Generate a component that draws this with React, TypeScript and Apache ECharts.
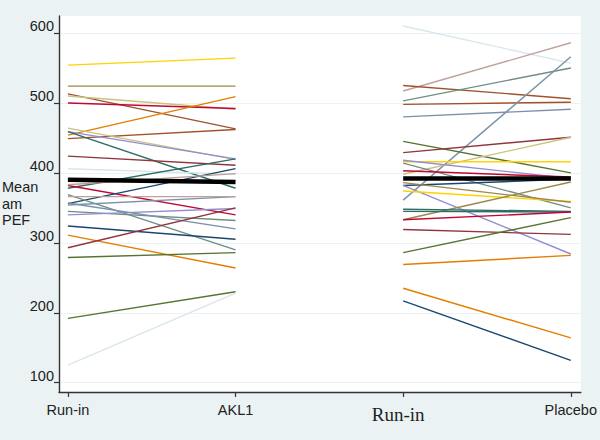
import React, { useEffect, useRef } from "react";
import * as echarts from "echarts";

// x positions: 1 = Run-in, 2 = AKL1, 3 = Run-in, 4 = Placebo
const categories = ["Run-in", "AKL1", "Run-in", "Placebo"];
const yTicks = [100, 200, 300, 400, 500, 600];

// AKL1 period: run-in value and treatment value per subject
const akl1RunIn = [554, 524, 513, 510, 500, 454, 449, 464, 459, 459, 424, 406, 378, 382, 356, 383, 369, 354, 345, 340, 357, 324, 311, 293, 279, 192, 125, 366];
const akl1Treat = [564, 524, 463, 491, 492, 509, 462, 419, 420, 378, 411, 398, 420, 340, 406, 399, 290, 366, 332, 349, 320, 305, 264, 350, 286, 230, 228, 366];

// Placebo period
const placeboRunIn = [610, 517, 525, 503, 498, 480, 361, 445, 429, 398, 416, 418, 414, 403, 382, 382, 374, 386, 333, 348, 345, 333, 319, 286, 269, 235, 217];
const placeboTreat = [557, 586, 506, 550, 501, 491, 566, 400, 451, 451, 416, 392, 350, 394, 391, 284, 359, 358, 387, 345, 344, 344, 312, 336, 282, 164, 132];

// group means
const meanAKL1 = [390, 387];
const meanPlacebo = [392, 392];

// Stata s2color palette
const PAL: Record<string, string> = {
  navy: "#1a476f",
  maroon: "#90353b",
  forest: "#55752f",
  dkorange: "#e37e00",
  teal: "#6e8e84",
  cranberry: "#c10534",
  lavender: "#938dd2",
  khaki: "#cac27e",
  sienna: "#a0522d",
  emidblue: "#7b92a8",
  emerald: "#2d6d66",
  brown: "#9c8847",
  erose: "#bfa19c",
  gold: "#ffd200",
  bluishgray: "#d9e6eb",
};

const akl1Colors = ["gold", "brown", "sienna", "khaki", "cranberry", "dkorange", "sienna", "khaki", "lavender", "emerald", "maroon", "bluishgray", "emerald", "cranberry", "navy", "erose", "teal", "emidblue", "teal", "lavender", "emidblue", "navy", "dkorange", "maroon", "forest", "forest", "bluishgray", "erose"];
const placeboColors = ["bluishgray", "erose", "sienna", "teal", "sienna", "emidblue", "emidblue", "forest", "maroon", "khaki", "gold", "lavender", "teal", "cranberry", "navy", "lavender", "gold", "brown", "brown", "emerald", "emerald", "cranberry", "maroon", "forest", "dkorange", "dkorange", "navy"];

const FONT = "'Liberation Sans', Arial, sans-serif";

export default function App() {
  const ref = useRef<HTMLDivElement>(null);
  useEffect(() => {
    if (!ref.current) return;
    const chart = echarts.init(ref.current, null, { renderer: "svg" });
    const series: any[] = [];
    akl1RunIn.forEach((v, i) => {
      series.push({
        type: "line",
        data: [[1, v], [2, akl1Treat[i]]],
        symbol: "none",
        silent: true,
        lineStyle: { color: PAL[akl1Colors[i]], width: 1.4 },
        z: 2,
      });
    });
    placeboRunIn.forEach((v, i) => {
      series.push({
        type: "line",
        data: [[3, v], [4, placeboTreat[i]]],
        symbol: "none",
        silent: true,
        lineStyle: { color: PAL[placeboColors[i]], width: 1.4 },
        z: 2,
      });
    });
    series.push({
      type: "line",
      data: [[1, meanAKL1[0]], [2, meanAKL1[1]]],
      symbol: "none",
      silent: true,
      lineStyle: { color: "#000", width: 4.5 },
      z: 5,
    });
    series.push({
      type: "line",
      data: [[3, meanPlacebo[0]], [4, meanPlacebo[1]]],
      symbol: "none",
      silent: true,
      lineStyle: { color: "#000", width: 4.5 },
      z: 5,
    });

    chart.setOption({
      animation: false,
      backgroundColor: "#eaf2f3",
      grid: {
        left: 59,
        right: 15,
        top: 16,
        bottom: 48,
        show: true,
        backgroundColor: "#ffffff",
        borderWidth: 0,
      },
      xAxis: {
        type: "value",
        min: 0.947,
        max: 4.06,
        axisLine: { show: true, onZero: false, lineStyle: { color: "#333", width: 1.4 } },
        axisTick: { show: true, length: 5, customValues: [1, 2, 3, 4], lineStyle: { color: "#333", width: 1.2 } },
        axisLabel: {
          customValues: [1, 2, 3, 4],
          margin: 10,
          fontSize: 14.5,
          fontFamily: FONT,
          color: "#222",
          formatter: (v: number) => {
            const idx = Math.round(v) - 1;
            if (idx === 2) return "{s|" + categories[idx] + "}";
            return categories[idx] ?? "";
          },
          rich: {
            s: {
              fontFamily: "'Liberation Serif', 'Times New Roman', serif",
              fontSize: 19,
              color: "#222",
              padding: [3, 10, 0, 0],
            },
          },
        },
        splitLine: { show: false },
      },
      yAxis: {
        type: "value",
        min: 86.7,
        max: 624.3,
        axisLine: { show: true, lineStyle: { color: "#333", width: 1.4 } },
        axisTick: { show: true, length: 5, customValues: yTicks, lineStyle: { color: "#333", width: 1.2 } },
        axisLabel: {
          customValues: yTicks,
          margin: 5,
          fontSize: 14.5,
          fontFamily: FONT,
          color: "#222",
          verticalAlign: "bottom",
          lineHeight: 13,
        },
        splitLine: { show: true, lineStyle: { color: "#eaf2f3", width: 1.2 } },
      },
      graphic: [
        {
          type: "text",
          left: 2,
          top: 179,
          style: {
            text: "Mean\nam\nPEF",
            font: "14.5px " + FONT,
            fill: "#222",
            lineHeight: 16.5,
          },
        },
      ],
      series,
    });
    return () => chart.dispose();
  }, []);
  return (
    <div
      ref={ref}
      style={{ position: "fixed", left: 0, top: 0, width: 600, height: 440 }}
    />
  );
}
